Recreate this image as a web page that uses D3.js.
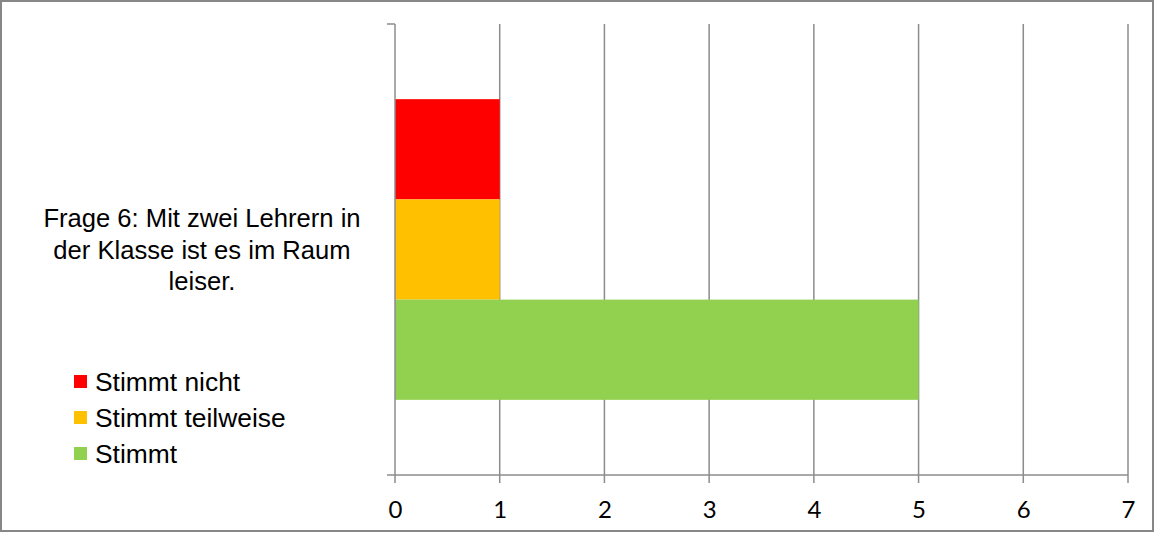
<!DOCTYPE html>
<html>
<head>
<meta charset="utf-8">
<script src="https://cdn.jsdelivr.net/npm/d3@7/dist/d3.min.js"></script>
<style>
  html, body { margin: 0; padding: 0; background: #fff; }
  svg { display: block; }
</style>
</head>
<body>
<svg id="chart" width="1155" height="533"></svg>
<script>
// ---- data ----
const categories = ["Frage 6: Mit zwei Lehrern in der Klasse ist es im Raum leiser."];
const categoryLines = ["Frage 6: Mit zwei Lehrern in", "der Klasse ist es im Raum", "leiser."];
const seriesNames = ["Stimmt nicht", "Stimmt teilweise", "Stimmt"];
const seriesValues = [1, 1, 5];
const seriesColors = ["#ff0000", "#ffc000", "#92d050"];
const tickValues = [0, 1, 2, 3, 4, 5, 6, 7];

// ---- layout ----
const W = 1155, H = 533;
const plot = { left: 395, right: 1128, top: 24, bottom: 475 };
const gridColor = "#8c8c8c";

const svg = d3.select("#chart");

// outer border
svg.append("rect")
  .attr("x", 1).attr("y", 1)
  .attr("width", W - 3).attr("height", H - 3)
  .attr("fill", "#fff")
  .attr("stroke", "#878787").attr("stroke-width", 2);

const x = d3.scaleLinear().domain([0, 7]).range([plot.left, plot.right]);
const yCat = d3.scaleBand().domain(categories).range([plot.top, plot.bottom]);
const ySer = d3.scaleBand().domain(seriesNames)
  .range([0, yCat.bandwidth()]).paddingInner(0).paddingOuter(0.75);

// vertical gridlines (extend below axis as tick marks)
svg.append("g").selectAll("line")
  .data(tickValues.filter(d => d > 0))
  .join("line")
  .attr("x1", d => x(d)).attr("x2", d => x(d))
  .attr("y1", plot.top).attr("y2", plot.bottom + 8)
  .attr("stroke", gridColor).attr("stroke-width", 1.5);

// bars
const g = svg.append("g").attr("transform", `translate(0,${yCat(categories[0])})`);
g.selectAll("rect")
  .data(seriesNames.map((n, i) => ({ name: n, value: seriesValues[i], color: seriesColors[i] })))
  .join("rect")
  .attr("x", x(0))
  .attr("y", d => ySer(d.name))
  .attr("width", d => x(d.value) - x(0))
  .attr("height", ySer.bandwidth())
  .attr("fill", d => d.color);

// category axis (vertical line at 0)
svg.append("line")
  .attr("x1", x(0)).attr("x2", x(0))
  .attr("y1", plot.top).attr("y2", plot.bottom + 8)
  .attr("stroke", gridColor).attr("stroke-width", 1.5);
// category axis top tick
svg.append("line")
  .attr("x1", x(0) - 8).attr("x2", x(0))
  .attr("y1", plot.top).attr("y2", plot.top)
  .attr("stroke", gridColor).attr("stroke-width", 1.5);
// value axis line
svg.append("line")
  .attr("x1", x(0) - 8).attr("x2", plot.right)
  .attr("y1", plot.bottom).attr("y2", plot.bottom)
  .attr("stroke", gridColor).attr("stroke-width", 1.5);

// value axis labels
const xAxis = d3.axisBottom(x).tickValues(tickValues).tickSize(0).tickPadding(0).tickFormat(d3.format("d"));
const ax = svg.append("g").attr("transform", `translate(0,${plot.bottom})`).call(xAxis);
ax.select(".domain").remove();
ax.selectAll("text")
  .attr("y", 43).attr("dy", null)
  .attr("font-family", "Lato, 'Liberation Sans', sans-serif")
  .attr("font-size", 24)
  .attr("fill", "#000");

// category label
const catText = svg.append("text")
  .attr("font-family", "'Liberation Sans', Arial, sans-serif")
  .attr("font-size", 25.6)
  .attr("fill", "#000")
  .attr("text-anchor", "middle");
categoryLines.forEach((line, i) => {
  catText.append("tspan").attr("x", 202).attr("y", 227 + i * 31.5).text(line);
});

// legend
const leg = svg.append("g");
seriesNames.forEach((n, i) => {
  const cy = 382 + i * 36;
  leg.append("rect").attr("x", 74).attr("y", cy - 7).attr("width", 13).attr("height", 13)
    .attr("fill", seriesColors[i]);
  leg.append("text").attr("x", 95).attr("y", cy + 9)
    .attr("font-family", "'Liberation Sans', Arial, sans-serif")
    .attr("font-size", 26.4).attr("fill", "#000").text(n);
});
</script>
</body>
</html>
